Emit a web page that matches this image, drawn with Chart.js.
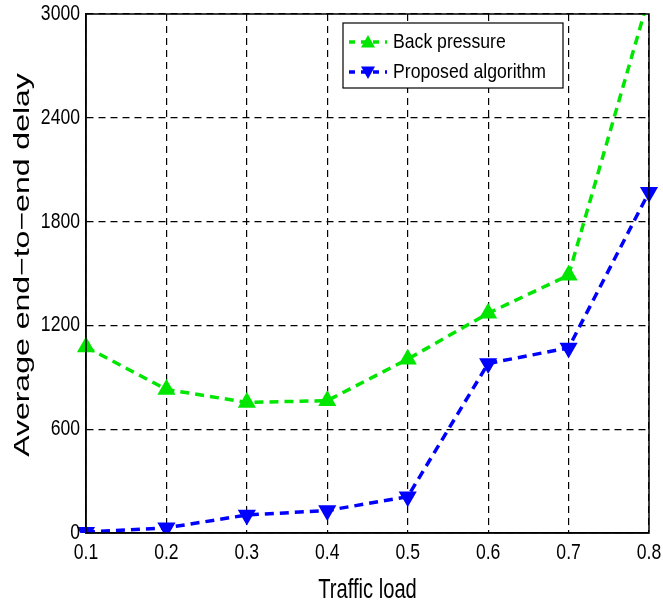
<!DOCTYPE html>
<html>
<head>
<meta charset="utf-8">
<script src="https://cdn.jsdelivr.net/npm/chart.js@4/dist/chart.umd.min.js"></script>
<style>
  html, body { margin: 0; padding: 0; background: #fff; }
  #wrap { width: 663px; height: 604px; }
</style>
</head>
<body>
<div id="wrap"><canvas id="delayChart" width="663" height="604"></canvas></div>
<script>
// Chart data
const trafficLoad = ['0.1', '0.2', '0.3', '0.4', '0.5', '0.6', '0.7', '0.8'];
const backPressure = [1075, 830, 755, 765, 1005, 1270, 1490, 3100];
const proposedAlgorithm = [5, 30, 104, 130, 210, 980, 1070, 1970];
const delayTicks = [0, 600, 1200, 1800, 2400, 3000];
const xTitle = 'Traffic load';
const yTitle = 'Average end\u2212to\u2212end delay';

const FONT = '"Liberation Sans", Arial, sans-serif';

// draw text squeezed sideways, like the narrow lettering of the original
function narrowText(ctx, text, x, y, size, sx, align) {
    ctx.save();
    ctx.translate(x, y);
    ctx.scale(sx, 1);
    ctx.font = size + 'px ' + FONT;
    ctx.textAlign = align;
    ctx.textBaseline = 'middle';
    ctx.fillStyle = '#000';
    ctx.fillText(text, 0, 0);
    ctx.restore();
}

// Box, tick labels, axis titles and legend
const frame = {
    id: 'frame',
    afterDraw(chart) {
        const ctx = chart.ctx;
        const a = chart.chartArea;
        const xs = chart.scales.x, ys = chart.scales.y;
        ctx.save();
        ctx.strokeStyle = '#000';
        ctx.lineWidth = 1.5;
        ctx.setLineDash([]);
        ctx.strokeRect(a.left, a.top, a.right - a.left, a.bottom - a.top);

        // tick labels
        delayTicks.forEach(v => {
            narrowText(ctx, String(v), a.left - 6, ys.getPixelForValue(v), 22, 0.8, 'right');
        });
        trafficLoad.forEach((lab, i) => {
            narrowText(ctx, lab, xs.getPixelForValue(i), a.bottom + 20, 22, 0.8, 'center');
        });

        // axis titles
        narrowText(ctx, xTitle, (a.left + a.right) / 2, 590, 28, 0.72, 'center');
        ctx.save();
        ctx.translate(23, 265);
        ctx.rotate(-Math.PI / 2);
        ctx.scale(1, 0.7);
        ctx.font = '32px ' + FONT;
        ctx.textAlign = 'center';
        ctx.textBaseline = 'middle';
        ctx.fillStyle = '#000';
        ctx.fillText(yTitle, 0, 0);
        ctx.restore();

        // legend box
        const lx = 343, ly = 23, lw = 220, lh = 65;
        ctx.fillStyle = '#fff';
        ctx.fillRect(lx, ly, lw, lh);
        ctx.lineWidth = 1.2;
        ctx.strokeStyle = '#000';
        ctx.strokeRect(lx, ly, lw, lh);

        chart.data.datasets.forEach((ds, i) => {
            const y = ly + 19 + i * 30;
            ctx.strokeStyle = ds.borderColor;
            ctx.lineWidth = ds.borderWidth;
            ctx.setLineDash([6, 6]);
            ctx.beginPath();
            ctx.moveTo(lx + 6, y);
            ctx.lineTo(lx + 44, y);
            ctx.stroke();
            ctx.setLineDash([]);
            // marker
            ctx.fillStyle = ds.pointBackgroundColor;
            const r = 7, cx = lx + 25;
            ctx.beginPath();
            if (ds.pointRotation === 180) {
                ctx.moveTo(cx - r, y - r * 0.8);
                ctx.lineTo(cx + r, y - r * 0.8);
                ctx.lineTo(cx, y + r);
            } else {
                ctx.moveTo(cx - r, y + r * 0.8);
                ctx.lineTo(cx + r, y + r * 0.8);
                ctx.lineTo(cx, y - r);
            }
            ctx.closePath();
            ctx.fill();

            narrowText(ctx, ds.label, lx + 50, y, 21, 0.84, 'left');
        });
        ctx.restore();
    }
};

new Chart(document.getElementById('delayChart'), {
    type: 'line',
    data: {
        labels: trafficLoad,
        datasets: [
            {
                label: 'Back pressure',
                data: backPressure,
                borderColor: '#00e600',
                backgroundColor: '#00e600',
                pointBackgroundColor: '#00e600',
                pointBorderColor: '#00e600',
                borderWidth: 3.5,
                borderDash: [9, 6],
                pointStyle: 'triangle',
                pointRadius: 7,
                pointRotation: 0,
                tension: 0
            },
            {
                label: 'Proposed algorithm',
                data: proposedAlgorithm,
                borderColor: '#0000ff',
                backgroundColor: '#0000ff',
                pointBackgroundColor: '#0000ff',
                pointBorderColor: '#0000ff',
                borderWidth: 3.5,
                borderDash: [9, 6],
                pointStyle: 'triangle',
                pointRadius: 7,
                pointRotation: 180,
                tension: 0
            }
        ]
    },
    options: {
        responsive: false,
        animation: false,
        events: [],
        layout: { padding: { top: 14, right: 14, left: 0, bottom: 0 } },
        plugins: {
            legend: { display: false },
            tooltip: { enabled: false }
        },
        scales: {
            x: {
                offset: false,
                grid: { color: '#000', lineWidth: 1.2, drawTicks: false },
                border: { display: true, color: '#000', width: 1.5, dash: [7, 5] },
                ticks: { display: false },
                afterFit(scale) { scale.height = 71; }
            },
            y: {
                min: 0,
                max: 3000,
                afterBuildTicks(scale) {
                    scale.ticks = delayTicks.map(v => ({ value: v }));
                },
                grid: { color: '#000', lineWidth: 1.2, drawTicks: false },
                border: { display: true, color: '#000', width: 1.5, dash: [7, 5] },
                ticks: { display: false },
                afterFit(scale) { scale.width = 86; }
            }
        }
    },
    plugins: [frame]
});
</script>
</body>
</html>
